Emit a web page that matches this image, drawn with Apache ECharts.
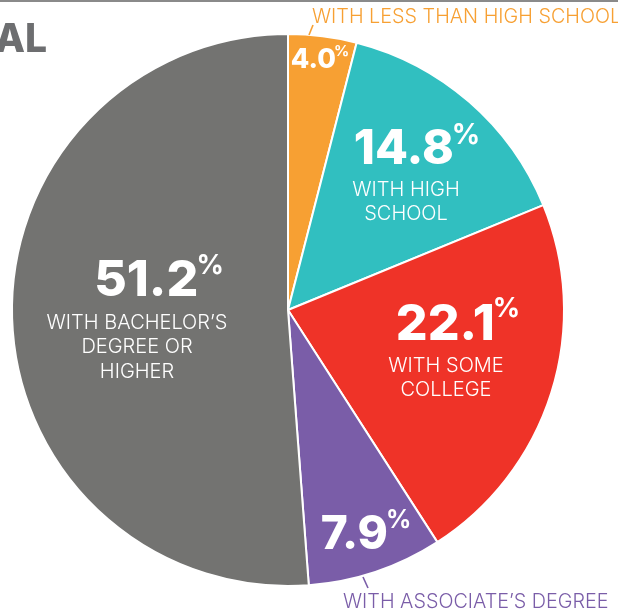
<!DOCTYPE html>
<html><head><meta charset="utf-8">
<script src="https://cdn.jsdelivr.net/npm/echarts@6/dist/echarts.min.js"></script>
<style>html,body{margin:0;padding:0;background:#fff}#c{width:618px;height:611px}</style>
</head><body><div id="c"></div>
<script>
const categories = ['WITH LESS THAN HIGH SCHOOL', 'WITH HIGH SCHOOL', 'WITH SOME COLLEGE', 'WITH ASSOCIATE’S DEGREE', 'WITH BACHELOR’S DEGREE OR HIGHER'];
const values = [4.0, 14.8, 22.1, 7.9, 51.2];
const insideLines = [[], ['WITH HIGH', 'SCHOOL'], ['WITH SOME', 'COLLEGE'], [], ['WITH BACHELOR’S', 'DEGREE OR', 'HIGHER']];
const outsideLabels = ['WITH LESS THAN HIGH SCHOOL', '', '', 'WITH ASSOCIATE’S DEGREE', ''];
const titleText = 'AL';

const colors = ['#F7A033', '#31BFC0', '#EF3328', '#7A5DA8', '#737371'];
const numSize = [27, 48, 50, 46, 50];
const pctSize = [15, 28, 27, 25, 27];
const numPad = [0, 22, 24, 0, 44];
const insidePos = [[320, 60], [406, 174], [446, 349], [366, 535], [137, 318]];
const FONT = 'Inter';

const chart = echarts.init(document.getElementById('c'), null, {renderer: 'canvas'});

const rich = {
  t: {fontFamily: FONT, fontSize: 20, fontWeight: 300, color: '#fff', lineHeight: 24.5}
};
values.forEach((v, i) => {
  rich['n' + i] = {fontFamily: FONT, fontSize: numSize[i], fontWeight: 800, color: '#fff', lineHeight: numSize[i] * 1.16, padding: [0, 0, 0, numPad[i]]};
  rich['p' + i] = {fontFamily: FONT, fontSize: pctSize[i], fontWeight: 700, color: '#fff', verticalAlign: 'top', lineHeight: pctSize[i] * 1.1, padding: [0, 0, 0, -2]};
});

const mainData = values.map((v, i) => ({
  name: categories[i],
  value: v,
  itemStyle: {color: colors[i]},
  label: {
    formatter: () => '{n' + i + '|' + v.toFixed(1) + '}{p' + i + '|%}' + insideLines[i].map(t => '\n{t|' + t + '}').join('')
  }
}));

const outPos = {
  0: {x: 312, y: 17, line: [[309, 35], [313, 25], [313, 25]]},
  3: {x: 343, y: 602, line: [[363, 577], [368, 588], [368, 588]]}
};

const outData = values.map((v, i) => ({
  name: outsideLabels[i],
  value: v,
  label: {show: outsideLabels[i] !== '', color: colors[i]},
  labelLine: {show: outsideLabels[i] !== '', lineStyle: {color: colors[i], width: 1.6}}
}));

chart.setOption({
  animation: false,
  graphic: [
    {type: 'rect', shape: {x: 0, y: 0, width: 618, height: 2}, style: {fill: '#8a8a8a'}},
    {type: 'text', left: -5, top: 21, style: {text: titleText, font: '800 39px Inter', fill: '#6d6e70'}}
  ],
  series: [
    {
      type: 'pie',
      center: [288, 310],
      radius: 276,
      startAngle: 90,
      clockwise: true,
      silent: true,
      itemStyle: {borderColor: '#fff', borderWidth: 2},
      label: {show: true, position: 'inside', align: 'center', rich: rich},
      labelLine: {show: false},
      labelLayout: (p) => ({x: insidePos[p.dataIndex][0], y: insidePos[p.dataIndex][1], align: 'center', verticalAlign: 'middle'}),
      data: mainData
    },
    {
      type: 'pie',
      center: [288, 310],
      radius: 276,
      startAngle: 90,
      clockwise: true,
      silent: true,
      z: 5,
      itemStyle: {color: 'rgba(0,0,0,0)', borderWidth: 0},
      label: {
        position: 'outside',
        formatter: '{b}',
        overflow: 'none',
        fontFamily: FONT, fontSize: 19.8, fontWeight: 300
      },
      labelLine: {length: 6, length2: 4},
      labelLayout: (p) => {
        const o = outPos[p.dataIndex];
        if (!o) return {};
        return {x: o.x, y: o.y, align: 'left', verticalAlign: 'middle', width: 330, labelLinePoints: o.line};
      },
      data: outData
    }
  ]
});
</script>
</body></html>
